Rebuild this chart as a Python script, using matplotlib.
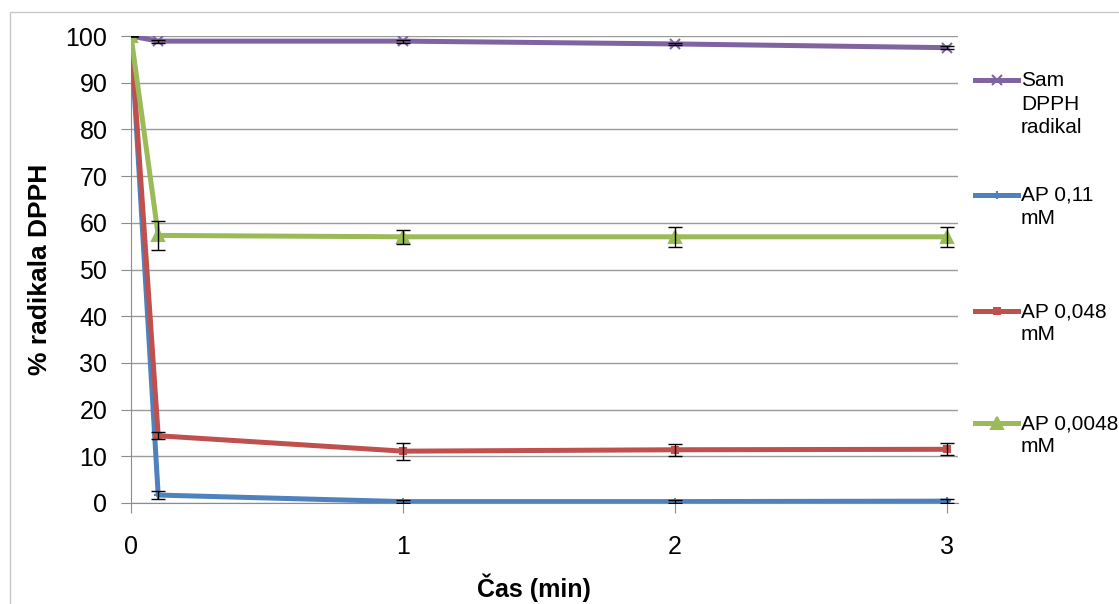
import matplotlib
matplotlib.use("Agg")
import matplotlib.pyplot as plt
from matplotlib.lines import Line2D
from matplotlib.patches import Rectangle

plt.rcParams['font.family'] = ['Liberation Sans', 'DejaVu Sans']

x = [0, 0.1, 1, 2, 3]
sam_dpph = [100, 98.9, 98.9, 98.3, 97.5]
sam_err = [0, 0.3, 0.3, 0.3, 0.3]
ap_011 = [100, 1.7, 0.3, 0.3, 0.4]
ap_011_err = [0, 0.8, 0.3, 0.3, 0.5]
ap_0048 = [100, 14.4, 11.1, 11.4, 11.5]
ap_0048_err = [0, 0.7, 1.8, 1.3, 1.3]
ap_00048 = [100, 57.3, 57.0, 57.0, 57.0]
ap_00048_err = [0, 3.1, 1.5, 2.2, 2.1]

labels = ["Sam\nDPPH\nradikal", "AP 0,11\nmM", "AP 0,048\nmM", "AP 0,0048\nmM"]
colors = ["#8064A2", "#4F81BD", "#C0504D", "#9BBB59"]
markers = ["x", "+", "s", "^"]
msizes = [7, 6, 5, 8]
series = [(sam_dpph, sam_err), (ap_011, ap_011_err), (ap_0048, ap_0048_err), (ap_00048, ap_00048_err)]

W, H = 1119, 604
fig = plt.figure(figsize=(W / 100, H / 100), dpi=100)
ax = fig.add_axes([131 / W, 1 - 503 / H, (958 - 131) / W, (503 - 36) / H])

# figure border
fig.add_artist(Rectangle((10 / W, -0.1), 1.2, 1 - 12 / H + 0.1, transform=fig.transFigure,
                         fill=False, edgecolor="#C8C8C8", lw=1))

for (vals, err), c, m, ms in zip(series, colors, markers, msizes):
    ax.plot(x, vals, color=c, lw=3.6, marker=m, ms=ms, mew=1.5, zorder=3)
    ax.errorbar(x, vals, yerr=err, fmt="none", ecolor="black", elinewidth=1,
                capsize=5, capthick=1, zorder=4)

ax.set_xlim(0, 3.04)
ax.set_ylim(0, 100)
ax.set_yticks(range(0, 101, 10))
ax.set_xticks([0, 1, 2, 3])
ax.yaxis.grid(True, color="#9A9A9A", lw=1)
ax.set_axisbelow(True)
for s in ["top", "right"]:
    ax.spines[s].set_visible(False)
for s in ["left", "bottom"]:
    ax.spines[s].set_color("#8C8C8C")
ax.tick_params(axis="both", colors="#8C8C8C", labelcolor="black", labelsize=18, length=7)
ax.tick_params(axis="y", pad=10)
ax.tick_params(axis="x", pad=16)
ax.set_xlabel("Čas (min)", fontsize=18, fontweight="bold", va="center")
ax.xaxis.set_label_coords(0.487, (503 - 588) / 467)
ax.set_ylabel("% radikala DPPH", fontsize=19, fontweight="bold", va="center")
ax.yaxis.set_label_coords((40 - 131) / 827, 0.5)

# legend, handle aligned with first text line
leg_y = [80, 195, 311, 423]
for yy, lab, c, m, ms in zip(leg_y, labels, colors, markers, msizes):
    fy = 1 - yy / H
    fig.add_artist(Line2D([975 / W, 1018 / W], [fy, fy], color=c, lw=3.6,
                          transform=fig.transFigure))
    fig.add_artist(Line2D([996.5 / W], [fy], color=c, marker=m, ms=ms, mew=1.5,
                          transform=fig.transFigure))
    fig.text(1021 / W, fy + 9 / H, lab, fontsize=15, va="top", ha="left",
             linespacing=1.3)

fig.savefig("out.png", dpi=100)
